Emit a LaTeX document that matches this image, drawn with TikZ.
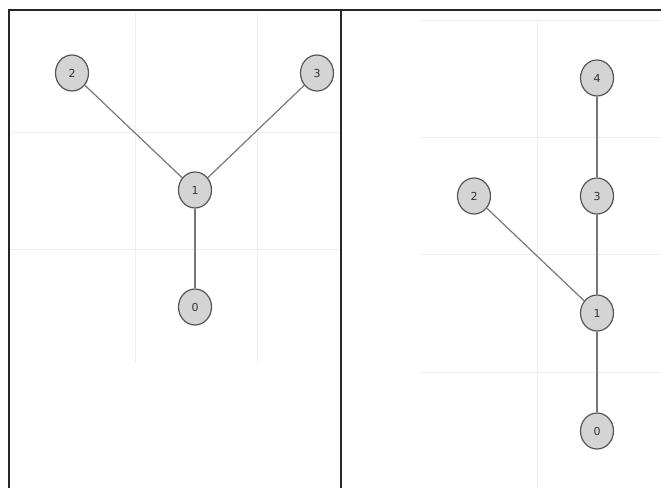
\documentclass[tikz,border=0pt]{standalone}
\usepackage{fontspec}
\setsansfont{DejaVu Sans}
\usepackage{xcolor}
\usetikzlibrary{positioning}
\usetikzlibrary{backgrounds}
\usetikzlibrary{shapes.geometric}

\definecolor{vfill}{HTML}{D4D4D4}
\definecolor{vdraw}{HTML}{555555}
\definecolor{edgegray}{HTML}{777777}
\definecolor{gridgray}{HTML}{EEEEEE}

\begin{document}
\begin{tikzpicture}[
    x=1pt, y=-1pt,
    vertex/.style={draw=vdraw, fill=vfill, ellipse, line width=1.2pt,
                   minimum width=33pt, minimum height=36pt, inner sep=0pt,
                   font=\sffamily\fontsize{11}{11}\selectfont, text=black!80},
    edge/.style={draw=edgegray, line width=1.2pt},
    frame/.style={draw=black!85, line width=1.4pt},
    faint/.style={draw=gridgray, line width=0.8pt}
  ]
    \useasboundingbox (0,0) rectangle (661,488);

    % Arbre de gauche
    \node[vertex] (l2) at (72,73) {2};
    \node[vertex] (l3) at (317,73) {3};
    \node[vertex] (l1) at (195,190) {1};
    \node[vertex] (l0) at (195,307) {0};

    % Arbre de droite
    \node[vertex] (r4) at (597,78) {4};
    \node[vertex] (r3) at (597,196) {3};
    \node[vertex] (r2) at (474,196) {2};
    \node[vertex] (r1) at (597,313) {1};
    \node[vertex] (r0) at (597,431) {0};

    % Cadre du tableau
    \draw[frame] (9,488) -- (9,10) -- (661,10);
    \draw[frame] (341,10) -- (341,488);

    \begin{pgfonlayer}{background}
      % Grille de fond, panneau gauche
      \draw[faint] (135,12) -- (135,363);
      \draw[faint] (257,12) -- (257,363);
      \draw[faint] (10,132) -- (340,132);
      \draw[faint] (10,249) -- (340,249);

      % Grille de fond, panneau droit
      \draw[faint] (537,20) -- (537,488);
      \foreach \gy in {20,137,254,372}
        \draw[faint] (420,\gy) -- (661,\gy);

      % Aretes gauche
      \draw[edge] (l2) -- (l1);
      \draw[edge] (l3) -- (l1);
      \draw[edge] (l1) -- (l0);

      % Aretes droite
      \draw[edge] (r4) -- (r3);
      \draw[edge] (r3) -- (r1);
      \draw[edge] (r2) -- (r1);
      \draw[edge] (r1) -- (r0);
    \end{pgfonlayer}

  \end{tikzpicture}
\end{document}
